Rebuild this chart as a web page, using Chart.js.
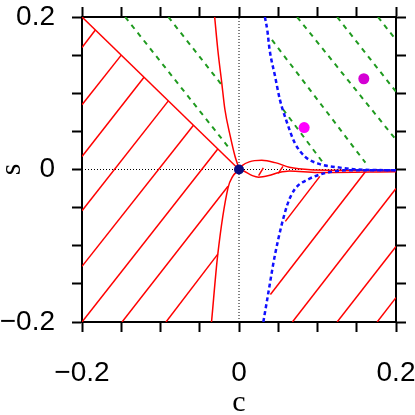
<!DOCTYPE html>
<html>
<head>
<meta charset="utf-8">
<script src="https://cdn.jsdelivr.net/npm/chart.js@4/dist/chart.umd.min.js"></script>
<style>
  html, body { margin: 0; padding: 0; background: #fff; }
  #graphic { display: block; }
</style>
</head>
<body>
<canvas id="graphic" width="415" height="415"></canvas>
<script>
// tick positions and labels (same on c and s axes)
var tickValues = [-0.2, -0.15, -0.1, -0.05, 0, 0.05, 0.1, 0.15, 0.2];
var tickLabels = ['\u22120.2', '', '', '', '0', '', '', '', '0.2'];

// special points
var originC = [0];
var originS = [0];
var markC = [0.083, 0.159];
var markS = [0.055, 0.119];

// red boundary s = -c
var diagC = [-0.2, 0];
var diagS = [0.2, 0];

// red curve going up from the origin
var upperC = [-0.031, -0.027, -0.022, -0.018, -0.011, -0.005, -0.001, 0];
var upperS = [0.2, 0.157, 0.114, 0.079, 0.043, 0.017, 0.004, 0];

// red curve going down from the origin
var lowerC = [-0.035, -0.027, -0.014, -0.008, -0.003, 0];
var lowerS = [-0.2, -0.111, -0.024, -0.009, -0.003, 0];

// red lens to the right of the origin
var lensTopC = [0, 0.004, 0.013, 0.029, 0.046, 0.064, 0.076, 0.116, 0.2];
var lensTopS = [0, 0.005, 0.010, 0.012, 0.009, 0.003, 0.001, -0.001, -0.001];
var lensBotC = [0, 0.004, 0.017, 0.025, 0.038, 0.051, 0.064, 0.1, 0.2];
var lensBotS = [0, -0.001, -0.008, -0.010, -0.008, -0.004, -0.002, -0.004, -0.003];

// red hatch segments: start (c0,s0) -> end (c1,s1)
var hatchC0 = [-0.2, -0.2, -0.2, -0.2, -0.2, -0.2, -0.149, -0.093,
               0.059, 0.040, 0.068, 0.125, 0.176, 0.025, 0.050];
var hatchS0 = [0.160, 0.085, 0.017, -0.054, -0.127, -0.2, -0.2, -0.2,
               -0.068, -0.164, -0.2, -0.2, -0.2, -0.008, -0.005];
var hatchC1 = [-0.183, -0.150, -0.121, -0.090, -0.058, -0.027, -0.014, -0.027,
               0.103, 0.161, 0.2, 0.2, 0.2, 0.031, 0.056];
var hatchS1 = [0.183, 0.150, 0.121, 0.090, 0.058, 0.027, -0.022, -0.111,
               -0.009, -0.003, -0.025, -0.101, -0.168, 0.002, 0.004];

// blue dashed curves
var blueTopC = [0.033, 0.036, 0.039, 0.046, 0.052, 0.061, 0.071, 0.084, 0.103, 0.125, 0.150, 0.2];
var blueTopS = [0.2, 0.183, 0.157, 0.122, 0.092, 0.062, 0.035, 0.017, 0.007, 0.003, 0.0, -0.001];
var blueBotC = [0.031, 0.037, 0.046, 0.061, 0.071, 0.088, 0.113, 0.141, 0.2];
var blueBotS = [-0.2, -0.164, -0.111, -0.048, -0.026, -0.013, -0.004, -0.001, -0.001];

// green dashed segments
var greenC0 = [-0.145, -0.090, 0.056, 0.042, 0.074, 0.125, 0.177];
var greenS0 = [0.2, 0.2, 0.079, 0.170, 0.2, 0.2, 0.2];
var greenC1 = [-0.014, -0.022, 0.107, 0.161, 0.2, 0.2, 0.2];
var greenS1 = [0.030, 0.111, 0.009, 0.009, 0.039, 0.102, 0.170];

// dotted zero lines
var zeroC = [-0.2, 0.2];
var zeroS = [0, 0];

function pts(cs, ss) {
    return cs.map(function (c, i) { return { x: c, y: ss[i] }; });
}

function curve(cs, ss, color, width, dash, smooth) {
    return {
        data: pts(cs, ss),
        showLine: true,
        borderColor: color,
        borderWidth: width,
        borderDash: dash || [],
        pointRadius: 0,
        fill: false,
        cubicInterpolationMode: smooth ? 'monotone' : 'default',
        tension: smooth ? 0.4 : 0
    };
}

var datasets = [];

datasets.push({
    data: pts(originC, originS),
    pointRadius: 5,
    pointBackgroundColor: '#0a0a80',
    pointBorderWidth: 0,
    showLine: false
});
datasets.push({
    data: pts(markC, markS),
    pointRadius: 5.5,
    pointBackgroundColor: ['#ff00ff', '#d400d4'],
    pointBorderWidth: 0,
    showLine: false
});

datasets.push(curve(blueTopC, blueTopS, '#1010ff', 2.5, [4, 3], true));
datasets.push(curve(blueBotC, blueBotS, '#1010ff', 2.5, [4, 3], true));

for (var g = 0; g < greenC0.length; g++) {
    datasets.push(curve([greenC0[g], greenC1[g]], [greenS0[g], greenS1[g]], '#1f9a1f', 2, [5, 5]));
}

datasets.push(curve(diagC, diagS, '#ff0000', 1.5));
datasets.push(curve(upperC, upperS, '#ff0000', 1.5, null, true));
datasets.push(curve(lowerC, lowerS, '#ff0000', 1.5, null, true));
datasets.push(curve(lensTopC, lensTopS, '#ff0000', 1.5, null, true));
datasets.push(curve(lensBotC, lensBotS, '#ff0000', 1.5, null, true));
for (var h = 0; h < hatchC0.length; h++) {
    datasets.push(curve([hatchC0[h], hatchC1[h]], [hatchS0[h], hatchS1[h]], '#ff0000', 1.5));
}

datasets.push(curve(zeroC, zeroS, '#000000', 1, [1, 2]));
datasets.push(curve(zeroS, zeroC, '#000000', 1, [1, 2]));

function setTicks(scale) {
    scale.ticks = tickValues.map(function (v) { return { value: v }; });
}

var tickFont = { family: 'Liberation Sans', size: 28, lineHeight: 1 };
var titleFont = { family: 'Liberation Serif', size: 30, lineHeight: 0.8 };

function axis(pos, showLabels, size) {
    var horizontal = pos === 'top' || pos === 'bottom';
    return {
        type: 'linear',
        position: pos,
        min: -0.2,
        max: 0.2,
        afterBuildTicks: setTicks,
        afterFit: function (scale) {
            if (horizontal) {
                scale.height = size;
                scale.paddingLeft = 0;
                scale.paddingRight = 0;
            } else {
                scale.width = size;
                scale.paddingTop = 0;
                scale.paddingBottom = 0;
            }
        },
        grid: {
            drawOnChartArea: false,
            drawTicks: true,
            tickLength: 10,
            tickWidth: 2,
            tickColor: '#000'
        },
        border: { display: true, color: '#000', width: 2 },
        ticks: {
            display: showLabels,
            autoSkip: false,
            maxRotation: 0,
            color: '#000',
            font: tickFont,
            padding: horizontal ? 27 : 17,
            callback: function (value, index) { return tickLabels[index]; }
        },
        title: {
            display: showLabels,
            text: horizontal ? 'c' : 's',
            color: '#000',
            font: titleFont,
            padding: 0
        }
    };
}

var ctx = document.getElementById('graphic').getContext('2d');

var graphic = new Chart(ctx, {
    type: 'scatter',
    data: { datasets: datasets },
    options: {
        responsive: false,
        animation: false,
        devicePixelRatio: 1,
        layout: { padding: 0 },
        plugins: { legend: { display: false }, tooltip: { enabled: false } },
        scales: {
            x: axis('bottom', true, 93),
            y: axis('left', true, 82),
            x2: axis('top', false, 17),
            y2: axis('right', false, 19)
        }
    }
});
</script>
</body>
</html>
